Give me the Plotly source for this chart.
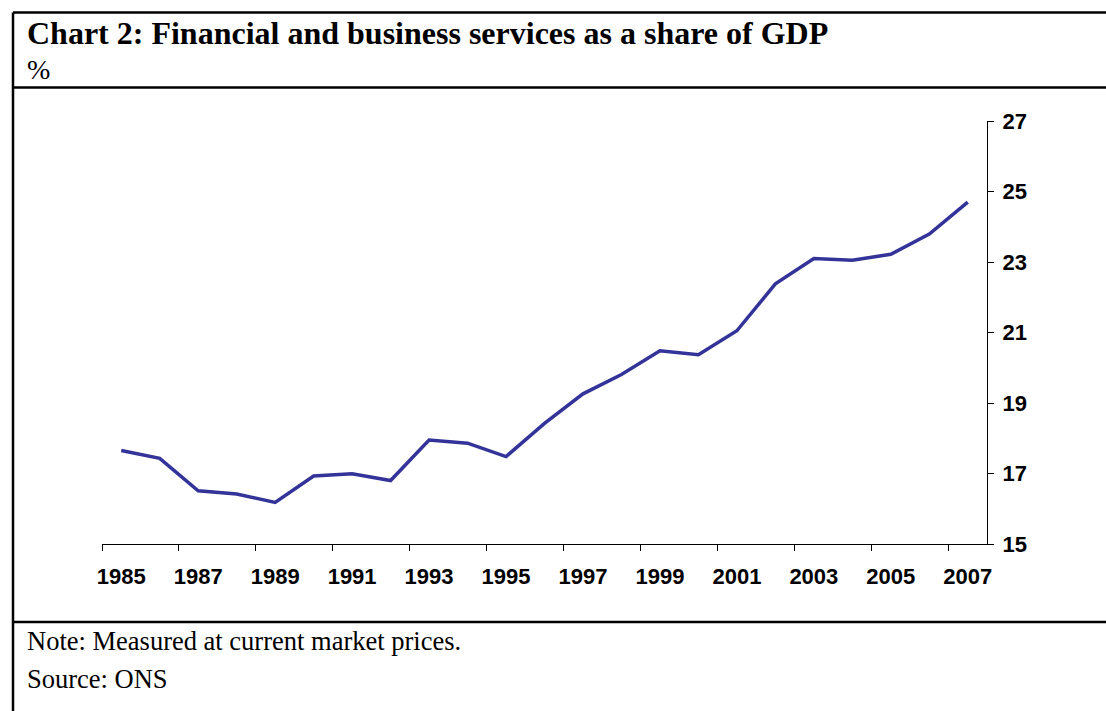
import plotly.graph_objects as go

years = list(range(1985, 2008))
share = [17.65, 17.43, 16.51, 16.42, 16.18, 16.93, 16.99, 16.80, 17.95, 17.86,
         17.48, 18.42, 19.26, 19.81, 20.48, 20.37, 21.05, 22.38, 23.10, 23.05,
         23.22, 23.79, 24.70]
x_labels = [str(y) for y in range(1985, 2008, 2)]
y_ticks = [15, 17, 19, 21, 23, 25, 27]

title = "Chart 2: Financial and business services as a share of GDP"
unit = "%"
note = "Note: Measured at current market prices."
source = "Source: ONS"

W, H = 1106, 711
L, R, T, B = 102, 987, 121, 544

def px(x):
    return (x - L) / (R - L)

def py(y):
    return (B - y) / (B - T)

fig = go.Figure()
fig.add_trace(go.Scatter(x=years, y=share, mode="lines",
                         line=dict(color="#333399", width=3.5),
                         showlegend=False, hoverinfo="skip"))

tickfont = dict(family="Liberation Sans, Arial, sans-serif", size=22, color="black",
                weight="bold")

fig.update_layout(
    width=W, height=H,
    margin=dict(l=L, r=W - R, t=T, b=H - B, pad=0),
    paper_bgcolor="white", plot_bgcolor="white",
    xaxis=dict(
        range=[1984.5, 2007.5],
        tickmode="array", tickvals=[int(v) for v in x_labels], ticktext=x_labels,
        ticks="", showgrid=False, zeroline=False,
        showline=True, linecolor="black", linewidth=1,
        tickfont=tickfont, ticklabelstandoff=13,
        minor=dict(tickmode="array",
                   tickvals=[v - 0.5 for v in range(1985, 2008, 2)],
                   ticks="outside", ticklen=6, tickcolor="black", tickwidth=1,
                   showgrid=False),
    ),
    yaxis=dict(
        range=[15, 27], side="right",
        tickmode="array", tickvals=y_ticks,
        ticks="outside", ticklen=6, tickcolor="black", tickwidth=1,
        showgrid=False, zeroline=False,
        showline=True, linecolor="black", linewidth=1,
        tickfont=tickfont, ticklabelstandoff=4,
    ),
)

serif = "Liberation Serif, Times New Roman, serif"
annos = [
    dict(text="<b>" + title + "</b>", x=px(25), y=py(32.5), size=32),
    dict(text=unit, x=px(25), y=py(69), size=28),
    dict(text=note, x=px(25), y=py(641), size=26.5),
    dict(text=source, x=px(25), y=py(679), size=26.5),
]
for a in annos:
    fig.add_annotation(text=a["text"], x=a["x"], y=a["y"], xref="paper", yref="paper",
                       xanchor="left", yanchor="middle", showarrow=False,
                       font=dict(family=serif, size=a["size"], color="black"))

lw = 2.5
shapes = [
    (13, 12.5, W + 5, 12.5),
    (13, 87.5, W + 5, 87.5),
    (13, 622, W + 5, 622),
    (13, 12.5, 13, H + 5),
]
for x0, y0, x1, y1 in shapes:
    fig.add_shape(type="line", xref="paper", yref="paper",
                  x0=px(x0), y0=py(y0), x1=px(x1), y1=py(y1),
                  line=dict(color="black", width=lw), layer="above")

fig.write_html("out.html")
